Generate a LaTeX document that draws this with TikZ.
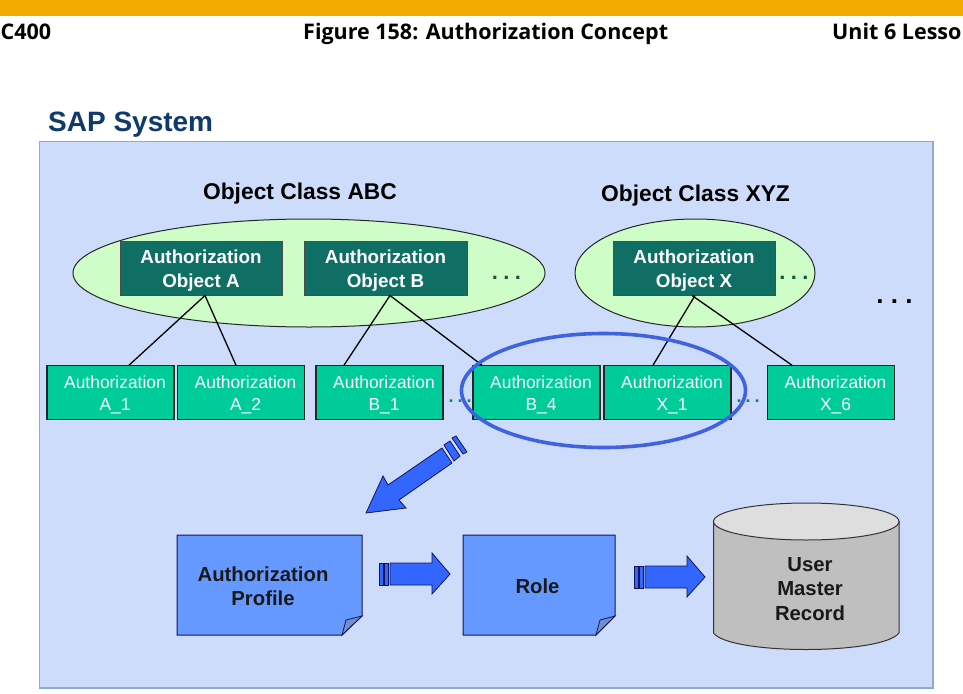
\documentclass[tikz,border=0pt]{standalone}
\usepackage{fontspec}
\usetikzlibrary{shapes.geometric}
\setmainfont{Liberation Sans}
\newfontfamily\headfont{Open Sans}
\newcommand{\movedtext}[3]{\hspace*{#1}\raisebox{#2}[\height][\depth]{\begin{tabular}{@{}c@{}}#3\end{tabular}}}
\definecolor{barc}{HTML}{F4AB00}
\definecolor{panelc}{HTML}{CEDCFC}
\definecolor{paneledge}{HTML}{8FAAD0}
\definecolor{greenell}{HTML}{CFFDC8}
\definecolor{objc}{HTML}{0F6F65}
\definecolor{authc}{HTML}{00CC99}
\definecolor{ringc}{HTML}{3F63DF}
\definecolor{notec}{HTML}{6699FF}
\definecolor{foldc}{HTML}{6F8FD0}
\definecolor{arrowc}{HTML}{3366FF}
\definecolor{linec}{HTML}{14145A}
\definecolor{titlec}{HTML}{0F3A6B}
\definecolor{dotc}{HTML}{0F7F75}
\definecolor{dotd}{HTML}{0E5A40}
\tikzset{
  ell/.style={ellipse,draw=black!85,line width=1pt,fill=greenell,inner sep=0pt},
  objbox/.style={rectangle,draw=black!70,line width=1pt,fill=objc,text=white,align=center,minimum height=54pt,inner sep=0pt,font=\fontsize{18.8}{23.5}\selectfont\bfseries},
  authbox/.style={rectangle,draw=black!85,line width=1.1pt,fill=authc,text=white,align=center,minimum width=127pt,minimum height=53.5pt,inner sep=0pt,font=\fontsize{17.4}{22.5}\selectfont},
  classlabel/.style={font=\fontsize{22.8}{26}\selectfont\bfseries,inner sep=0pt},
  headlabel/.style={font=\headfont\fontsize{21.5}{24}\selectfont\bfseries,inner sep=0pt,anchor=base west},
  conn/.style={draw=black,line width=1.3pt},
  blockarrow/.style={draw=linec,line width=.8pt,fill=arrowc,line join=miter},
  notepage/.style={draw=linec,line width=1pt,fill=notec},
  foldpage/.style={draw=linec,line width=.8pt,fill=foldc},
  notetext/.style={font=\fontsize{20.3}{24.5}\selectfont\bfseries,align=center,inner sep=0pt,text=black!90},
  dotlabel/.style={inner sep=0pt,anchor=base,font=\fontsize{22}{24}\selectfont\bfseries}
}
\begin{document}
\begin{tikzpicture}[x=1pt,y=-1pt]
\useasboundingbox (0,0) rectangle (963,693);
\fill[white] (0,0) rectangle (963,693);
\fill[barc] (0,0) rectangle (963,16.5);
\node[headlabel] (hleft) at (0.5,40) {C400};
\node[headlabel] (hmid) at (303,40) {Figure 158: Authorization Concept};
\node[headlabel] (hright) at (832,40) {Unit 6 Lesso};
\node[font=\fontsize{28}{32}\selectfont\bfseries,text=titlec,inner sep=0pt,anchor=west] (title) at (48,125) {SAP System};
\draw[draw=paneledge,line width=1.2pt,fill=panelc] (39.5,141.5) rectangle (933,688);
\node[classlabel] (clsabc) at (300,194) {Object Class ABC};
\node[classlabel] (clsxyz) at (695.5,195.5) {Object Class XYZ};
\node[ell,minimum width=472pt,minimum height=108pt] (ellabc) at (309,273) {};
\node[ell,minimum width=240pt,minimum height=108pt] (ellxyz) at (695,273) {};
\node[objbox,minimum width=162pt] (obja) at (201,268) {\movedtext{0pt}{-3pt}{Authorization\\Object A}};
\node[objbox,minimum width=163pt] (objb) at (385.5,268) {\movedtext{0pt}{-3pt}{Authorization\\Object B}};
\node[objbox,minimum width=162pt] (objx) at (694,268) {\movedtext{0pt}{-3pt}{Authorization\\Object X}};
\node[dotlabel,text=dotd] (dotsa) at (506.5,279.5) {.\hspace{5.4pt}.\hspace{5.4pt}.};
\node[dotlabel,text=dotd] (dotsb) at (794,279.5) {.\hspace{5.4pt}.\hspace{5.4pt}.};
\node[dotlabel,text=black,font=\fontsize{26}{30}\selectfont\bfseries] (dotsc) at (894.5,303) {.\hspace{7.3pt}.\hspace{7.3pt}.};
\node[authbox] (a1) at (110.5,392.5) {\movedtext{9pt}{-2.5pt}{Authorization\\A\_1}};
\node[authbox] (a2) at (241,392.5) {\movedtext{9pt}{-2.5pt}{Authorization\\A\_2}};
\node[authbox] (b1) at (379.5,392.5) {\movedtext{9pt}{-2.5pt}{Authorization\\B\_1}};
\node[authbox] (b4) at (536.5,392.5) {\movedtext{9pt}{-2.5pt}{Authorization\\B\_4}};
\node[authbox] (x1) at (667.5,392.5) {\movedtext{9pt}{-2.5pt}{Authorization\\X\_1}};
\node[authbox] (x6) at (831,392.5) {\movedtext{9pt}{-2.5pt}{Authorization\\X\_6}};
\node[dotlabel,text=dotc,font=\fontsize{18}{20}\selectfont\bfseries] (dotsd) at (460,402.5) {.\hspace{4pt}.\hspace{4pt}.};
\node[dotlabel,text=dotc,font=\fontsize{18}{20}\selectfont\bfseries] (dotse) at (748,402.5) {.\hspace{4pt}.\hspace{4pt}.};
\draw[conn] ([xshift=4pt]obja.south) -- ([xshift=18.5pt]a1.north);
\draw[conn] ([xshift=4pt]obja.south) -- ([xshift=-5pt]a2.north);
\draw[conn] ([xshift=4.5pt]objb.south) -- ([xshift=-35.5pt]b1.north);
\draw[conn] ([xshift=4.5pt]objb.south) -- ([xshift=-54.5pt]b4.north);
\draw[conn] ([xshift=1pt]objx.south) -- ([xshift=-14.5pt]x1.north);
\draw[conn] ([xshift=-2pt]objx.south) -- ([xshift=-39pt]x6.north);
\draw[draw=ringc,line width=3.6pt] (603.5,390.5) ellipse [x radius=142pt,y radius=57pt];
% big diagonal arrow
\draw[blockarrow] (366,513) -- (383,476) -- (388,485) -- (442,448) -- (452,463) -- (399,500) -- (406,508) -- cycle;
\draw[blockarrow] (444,445) -- (450,441) -- (460,456) -- (454,461) -- cycle;
\draw[blockarrow] (452,438) -- (456,436) -- (467,452) -- (463,454) -- cycle;
% right arrows
\draw[blockarrow] (390,563) -- (432,563) -- (432,553) -- (450,574) -- (432,594) -- (432,585) -- (390,585) -- cycle;
\draw[blockarrow] (379,563) rectangle (383,585);
\draw[blockarrow] (384,563) rectangle (388,585);
\draw[blockarrow] (645,566) -- (687,566) -- (687,556) -- (705,577) -- (687,597) -- (687,588) -- (645,588) -- cycle;
\draw[blockarrow] (634,566) rectangle (638,588);
\draw[blockarrow] (639,566) rectangle (643,588);
% pages
\draw[notepage] (177,535) -- (362,535) -- (362,616) -- (342,635) -- (177,635) -- cycle;
\draw[foldpage] (342,635) -- (346,620) -- (362,616) -- cycle;
\node[notetext] (profile) at (263,586) {Authorization\\Profile};
\draw[notepage] (463,535) -- (615,535) -- (615,616) -- (596,635) -- (463,635) -- cycle;
\draw[foldpage] (596,635) -- (600,620) -- (615,616) -- cycle;
\node[notetext] (role) at (537.5,586) {Role};
% cylinder
\draw[draw=black!80,line width=1pt,fill=black!25] (713.5,521.5) -- (713.5,633) .. controls (730,655) and (882,655) .. (899,633) -- (899,521.5) -- cycle;
\draw[draw=black!80,line width=1pt,fill=black!13] (806.25,521.5) ellipse [x radius=92.75pt,y radius=18.5pt];
\node[notetext] (umr) at (810,589) {User\\Master\\Record};
\end{tikzpicture}
\end{document}
